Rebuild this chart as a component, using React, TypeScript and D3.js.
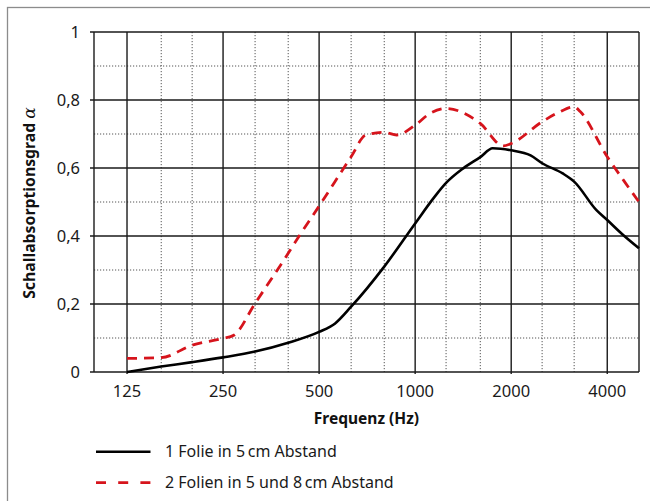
import React from "react";
import * as d3 from "d3";

const freqTicks = [125, 250, 500, 1000, 2000, 4000];
const freqMinor = [160, 200, 315, 400, 630, 800, 1250, 1600, 2500, 3150];
const alphaTicks = [0, 0.2, 0.4, 0.6, 0.8, 1];
const alphaTickLabels = ["0", "0,2", "0,4", "0,6", "0,8", "1"];
const alphaMinor = [0.1, 0.3, 0.5, 0.7, 0.9];

// Series 1: 1 Folie in 5 cm Abstand
const freq1 = [125, 160, 200, 250, 315, 400, 500, 560, 630, 800, 1000, 1150, 1250, 1415, 1600, 1750, 2000, 2300, 2500, 2900, 3150, 3700, 4000, 4450, 5030];
const alpha1 = [0.0, 0.016, 0.029, 0.043, 0.06, 0.086, 0.118, 0.142, 0.192, 0.31, 0.437, 0.515, 0.556, 0.599, 0.632, 0.658, 0.652, 0.637, 0.614, 0.584, 0.56, 0.476, 0.447, 0.406, 0.364];

// Series 2: 2 Folien in 5 und 8 cm Abstand
const freq2 = [125, 160, 200, 250, 270, 315, 400, 435, 500, 630, 700, 800, 875, 1000, 1115, 1250, 1520, 1600, 1890, 2000, 2500, 2810, 3150, 3290, 4000, 4490, 5030];
const alpha2 = [0.04, 0.042, 0.079, 0.099, 0.108, 0.202, 0.349, 0.403, 0.488, 0.633, 0.697, 0.705, 0.697, 0.726, 0.761, 0.775, 0.746, 0.731, 0.665, 0.672, 0.736, 0.763, 0.78, 0.766, 0.633, 0.565, 0.5];

const seriesLabels = ["1 Folie in 5\u2009cm Abstand", "2 Folien in 5 und 8\u2009cm Abstand"];

const W = 650;
const H = 501;
const L = 94, R = 639, T = 32, B = 372;
const RED = "#d6141c";
const FONT = "'Noto Sans', 'Open Sans', sans-serif";

export default function App() {
  const x = d3.scaleLog().domain([98.5, 5030]).range([L, R]);
  const y = d3.scaleLinear().domain([0, 1]).range([B, T]);

  const s1 = freq1.map((f, i) => ({ f, a: alpha1[i] }));
  const s2 = freq2.map((f, i) => ({ f, a: alpha2[i] }));
  const line = d3
    .line<{ f: number; a: number }>()
    .x((d) => x(d.f))
    .y((d) => y(d.a))
    .curve(d3.curveMonotoneX);

  return (
    <div style={{ position: "fixed", left: 0, top: 0, width: W, height: H, background: "#fff" }}>
      <svg width={W} height={H} style={{ display: "block" }} fontFamily={FONT}>
        <defs>
          <clipPath id="plotclip">
            <rect x={L} y={T - 2} width={R - L + 2} height={B - T + 4} />
          </clipPath>
        </defs>
        <rect x={0} y={0} width={W} height={H} fill="#fff" />
        {/* outer frame */}
        <rect x={7.5} y={7.5} width={W + 20} height={H + 20} fill="none" stroke="#8c8c8c" strokeWidth={1.3} />

        {/* minor dotted grid */}
        {freqMinor.map((f) => (
          <line key={"vf" + f} x1={x(f)} x2={x(f)} y1={T} y2={B} stroke="#555" strokeWidth={1} strokeDasharray="1.2,1.8" />
        ))}
        {alphaMinor.map((a) => (
          <line key={"ha" + a} x1={L} x2={R} y1={y(a)} y2={y(a)} stroke="#555" strokeWidth={1} strokeDasharray="1.2,1.8" />
        ))}

        {/* major solid grid */}
        {freqTicks.map((f) => (
          <line key={"vF" + f} x1={x(f)} x2={x(f)} y1={T} y2={B + 2} stroke="#1a1a1a" strokeWidth={1.4} />
        ))}
        {alphaTicks.map((a) => (
          <line key={"hA" + a} x1={L - 4} x2={R} y1={y(a)} y2={y(a)} stroke="#1a1a1a" strokeWidth={1.4} />
        ))}
        <line x1={L} x2={L} y1={T} y2={B} stroke="#1a1a1a" strokeWidth={1.4} />
        <line x1={R} x2={R} y1={T} y2={B} stroke="#1a1a1a" strokeWidth={1.4} />

        {/* curves */}
        <g clipPath="url(#plotclip)">
          <path d={line(s2) || ""} fill="none" stroke={RED} strokeWidth={2.8} strokeDasharray="10,7" />
          <path d={line(s1) || ""} fill="none" stroke="#000" strokeWidth={2.6} strokeLinejoin="round" />
        </g>

        {/* y tick labels */}
        {alphaTicks.map((a, i) => (
          <text key={"yl" + a} x={80} y={y(a)} dy="0.36em" textAnchor="end" fontSize={16.5} fill="#1a1a1a">
            {alphaTickLabels[i]}
          </text>
        ))}
        {/* x tick labels */}
        {freqTicks.map((f) => (
          <text key={"xl" + f} x={x(f)} y={397} textAnchor="middle" fontSize={16.5} fill="#1a1a1a">
            {f}
          </text>
        ))}

        {/* axis titles */}
        <text x={366.5} y={424} textAnchor="middle" fontSize={15.5} fontWeight="bold" fill="#111">
          Frequenz (Hz)
        </text>
        <text
          transform={`translate(35,203) rotate(-90)`}
          textAnchor="middle"
          fontSize={15.8}
          fontWeight="bold"
          fill="#111"
        >
          Schallabsorptionsgrad{" "}
          <tspan fontFamily="'DejaVu Serif', serif" fontStyle="italic" fontWeight="normal" fontSize={17}>
            α
          </tspan>
        </text>

        {/* legend */}
        <line x1={96} x2={150.5} y1={451.7} y2={451.7} stroke="#000" strokeWidth={2.6} />
        <text x={165} y={457} fontSize={16} fill="#1a1a1a">
          {seriesLabels[0]}
        </text>
        <line x1={96} x2={150.5} y1={482.7} y2={482.7} stroke={RED} strokeWidth={2.8} strokeDasharray="10,12.2" />
        <text x={165} y={488} fontSize={16} fill="#1a1a1a">
          {seriesLabels[1]}
        </text>
      </svg>
    </div>
  );
}
